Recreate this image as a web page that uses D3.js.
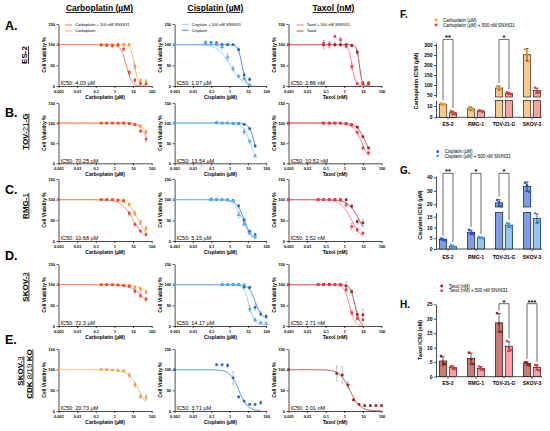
<!DOCTYPE html>
<html><head><meta charset="utf-8">
<script src="https://cdnjs.cloudflare.com/ajax/libs/d3/7.8.5/d3.min.js"></script>
<style>body{margin:0;background:#fff} svg{display:block} text{font-family:Arial,"Liberation Sans",sans-serif}</style>
</head><body><svg id="c" width="550" height="431"></svg>
<script>
// ---------------- DATA ----------------
const xTicks = [0.001, 0.01, 0.1, 1, 10, 100];
const yTicks = [0, 50, 100, 150];
const cellLines = ["ES-2", "TOV-21-G", "RMG-1", "SKOV-3", "SKOV-3 CDK 8/19 KO"];

const carboDoses = [0.001,0.195,0.39,0.78,1.5625,3.125,6.25,12.5,25,50];
const cisDosesA = [0.001,0.049,0.098,0.195,0.39,0.78,1.5625,3.125,6.25,12.5];
const cisDosesB = [0.001,0.195,0.39,0.78,1.5625,3.125,6.25,12.5,25];
const cisDosesC = [0.001,0.098,0.195,0.39,0.78,1.5625,3.125,6.25,12.5,25];
const cisDosesD = [0.001,0.39,0.78,1.5625,3.125,6.25,12.5,25,50,100];
const cisDosesE = [0.001,0.195,0.39,0.78,1.5625,3.125,6.25,12.5,25,50];
const taxDosesAB = [0.001,0.078,0.156,0.3125,0.625,1.25,2.5,5,10,20];
const taxDosesCD = [0.001,0.039,0.078,0.156,0.3125,0.625,1.25,2.5,5,10];
const taxDosesE = [0.001,0.39,0.78,1.5625,3.125,6.25,12.5,25,50,100];

// mean viability (%) and SD; fits = [IC50, Hill, bottom] for [drug, drug+SNX631]
const carboA = [100,100,101,100,101,100,100,47,13,10], carboA_sd = [0,2,2,3,2,3,3,6,4,5];
const carboAc = [100,99,98,97,99,89,33,14,6,5], carboAc_sd = [0,2,2,3,3,4,6,4,2,2];
const carboA_fit = [[12,4,0],[4.3,3,0]];
const carboB = [100,100,100,100,100,100,99,97,93,78], carboB_sd = [0,1,1,1,1,1,2,2,3,4];
const carboBc = [100,100,100,100,100,100,99,96,80,60], carboBc_sd = [0,1,1,1,1,2,2,3,3,6];
const carboB_fit = [[94,2,0],[70.25,2,0]];
const carboC = [100,100,100,100,99,99,89,67,45,30], carboC_sd = [0,1,1,1,2,2,3,6,5,5];
const carboCc = [100,100,100,100,99,97,67,40,24,16], carboCc_sd = [0,1,1,1,2,3,6,4,3,3];
const carboC_fit = [[20,1.5,0],[10.68,1.35,0]];
const carboD = [100,100,100,100,100,99,98,93,89,82], carboD_sd = [0,1,1,1,1,1,2,4,5,5];
const carboDc = [100,100,100,100,99,98,96,84,73,65], carboDc_sd = [0,1,1,1,1,2,2,5,6,5];
const carboD_fit = [[200,1.2,0],[72.3,1.1,0]];
const carboE = [100,100,100,99,98,97,87,63,35,33], carboE_sd = [0,1,1,1,1,2,5,5,4,6];
const carboE_fit = [[20.73,1.5,0]];

const cisA = [100,105,105,104,100,100,100,88,27,16], cisA_sd = [0,4,3,4,3,2,2,4,5,4];
const cisAc = [100,104,102,100,95,70,42,24,18,3], cisAc_sd = [0,3,3,3,6,8,6,3,3,2];
const cisA_fit = [[4.8,4,0],[1.1,1.3,0]];
const cisB = [100,101,100,100,99,99,97,86,43], cisB_sd = [0,1,1,1,2,2,2,3,3];
const cisBc = [100,101,100,100,99,98,78,55,18], cisBc_sd = [0,1,1,1,2,2,6,4,2];
const cisB_fit = [[23,3,0],[13.54,2.2,0]];
const cisC = [100,101,100,100,100,98,85,51,23,15], cisC_sd = [0,1,1,1,1,2,4,5,3,3];
const cisCc = [100,100,100,100,99,97,63,41,19,10], cisCc_sd = [0,1,1,1,1,2,7,4,3,3];
const cisC_fit = [[6.5,2,0],[5.15,1.8,0]];
const cisD = [100,100,100,100,100,94,93,45,29,23], cisD_sd = [0,1,1,1,1,2,3,8,6,5];
const cisDc = [100,100,100,100,100,100,41,15,8,6], cisDc_sd = [0,1,1,1,1,2,6,4,3,3];
const cisD_fit = [[25,2.5,18],[11.5,3,3]];
const cisE = [100,112,112,110,80,34,24,16,16,20], cisE_sd = [0,0,0,5,15,2,2,2,2,4];
const cisE_fit = [[3.2,1.8,0]];

const taxA = [100,100,100,100,100,100,98,82,6,5], taxA_sd = [0,10,8,5,4,3,3,6,3,2];
const taxAc = [100,103,100,120,112,96,47,6,8,8], taxAc_sd = [0,6,6,2,6,4,8,2,1,1];
const taxA_fit = [[6.5,6,0],[2.6,4.5,0]];
const taxB = [100,100,100,100,100,99,96,90,66,38], taxB_sd = [0,1,1,1,1,1,2,2,3,3];
const taxBc = [100,100,100,100,100,99,95,77,38,26], taxBc_sd = [0,1,1,1,1,1,2,4,5,4];
const taxB_fit = [[15,1.8,0],[9,1.8,0]];
const taxC = [100,100,100,100,100,100,100,84,47,44], taxC_sd = [0,1,1,1,1,2,3,5,6,8];
const taxCc = [100,100,100,100,100,99,88,35,27,19], taxCc_sd = [0,1,1,1,1,2,5,8,5,3];
const taxC_fit = [[6.5,1.5,0],[2.52,1.5,0]];
const taxD = [100,100,101,101,100,100,97,83,28,27], taxD_sd = [0,1,1,1,1,2,10,5,6,14];
const taxDc = [100,100,100,100,100,99,88,32,18,15], taxDc_sd = [0,1,1,1,1,2,8,6,4,3];
const taxD_fit = [[3.8,3.5,0],[1.9,3,0]];
const taxE = [100,91,87,63,27,16,13,13,13,13], taxE_sd = [0,18,20,8,3,2,2,2,2,3];
const taxE_fit = [[2.01,1.6,0]];

const ic50Carbo = ["4.03 µM","70.25 µM","10.68 µM","72.3 µM","20.73 µM"];
const ic50Cis = ["1.07 µM","13.54 µM","5.15 µM","14.17 µM","3.71 µM"];
const ic50Tax = ["2.86 nM","10.52 nM","2.52 nM","2.71 nM","2.01 nM"];

// bar charts (IC50 replicates)
const barCats = ["ES-2","RMG-1","TOV-21-G","SKOV-3"];
const carboIC50Drug = [[12.3,11.5,11.0],[9.0,7.3,6.0],[95,85,75],[278,258,217]];
const carboIC50Combo = [[5.5,3.8,2.8],[6.2,5.6,5.0],[64,58,54],[86,68,62]];
const cisIC50Drug = [[4.9,4.4,4.0],[8.9,7.6,6.9],[23.2,21.5,18.5],[35.9,34.2,29.3]];
const cisIC50Combo = [[1.8,1.0,0.7],[5.6,5.2,4.9],[12.0,11.2,10.1],[16.6,13.3,12.6]];
const taxIC50Drug = [[7.1,4.8,4.4],[8.3,6.0,4.4],[21.9,18.4,15.5],[5.1,4.7,3.9]];
const taxIC50Combo = [[3.7,3.2,2.6],[3.5,2.9,2.3],[12.3,9.8,9.2],[4.0,3.5,2.2]];
const sigF = [["ES-2","**"],["TOV-21-G","*"]];
const sigG = [["ES-2","**"],["RMG-1","*"],["TOV-21-G","*"]];
const sigH = [["TOV-21-G","*"],["SKOV-3","***"]];

// ---------------- DRAWING ----------------
const svg = d3.select('#c');
const colX = [[58.5,151.7],[174.6,266.2],[288.5,381.5]];
const rowY = [[24,86],[103,163.3],[179,241],[264,326],[349,411]];

const drugs = [
  {name:"Carboplatin", unit:"µM", title:"Carboplatin (µM)",
   c:{drugPt:"#f7a232", drugLn:"#f9ad4e", comboPt:"#ef4328", comboLn:"#f26a5c"},
   shapes:[d3.symbolSquare, d3.symbolSquare], ic:ic50Carbo,
   rows:[[carboDoses,carboA,carboA_sd,carboAc,carboAc_sd,carboA_fit],
         [carboDoses,carboB,carboB_sd,carboBc,carboBc_sd,carboB_fit],
         [carboDoses,carboC,carboC_sd,carboCc,carboCc_sd,carboC_fit],
         [carboDoses,carboD,carboD_sd,carboDc,carboDc_sd,carboD_fit],
         [carboDoses,carboE,carboE_sd,null,null,carboE_fit]]},
  {name:"Cisplatin", unit:"µM", title:"Cisplatin (µM)",
   c:{drugPt:"#1f62d9", drugLn:"#3479e0", comboPt:"#4cb0f3", comboLn:"#7cc6f6"},
   shapes:[d3.symbolCircle, d3.symbolTriangle], ic:ic50Cis,
   rows:[[cisDosesA,cisA,cisA_sd,cisAc,cisAc_sd,cisA_fit],
         [cisDosesB,cisB,cisB_sd,cisBc,cisBc_sd,cisB_fit],
         [cisDosesC,cisC,cisC_sd,cisCc,cisCc_sd,cisC_fit],
         [cisDosesD,cisD,cisD_sd,cisDc,cisDc_sd,cisD_fit],
         [cisDosesE,cisE,cisE_sd,null,null,cisE_fit]]},
  {name:"Taxol", unit:"nM", title:"Taxol (nM)",
   c:{drugPt:"#a31c1c", drugLn:"#ab3434", comboPt:"#ff2f42", comboLn:"#ff6b78"},
   shapes:[d3.symbolSquare, d3.symbolSquare], ic:ic50Tax,
   rows:[[taxDosesAB,taxA,taxA_sd,taxAc,taxAc_sd,taxA_fit],
         [taxDosesAB,taxB,taxB_sd,taxBc,taxBc_sd,taxB_fit],
         [taxDosesCD,taxC,taxC_sd,taxCc,taxCc_sd,taxC_fit],
         [taxDosesCD,taxD,taxD_sd,taxDc,taxDc_sd,taxD_fit],
         [taxDosesE,taxE,taxE_sd,null,null,taxE_fit]]}
];

function hill(fit, x){ const [ic,h,b] = fit; return b + (100-b)/(1+Math.pow(x/ic,h)); }

function styleAxis(g, fs){
  g.selectAll('path.domain').attr('stroke','#000').attr('stroke-width',0.7);
  g.selectAll('.tick line').attr('stroke','#000').attr('stroke-width',0.7);
  g.selectAll('.tick text').attr('font-size',fs).attr('font-weight','bold').attr('fill','#000')
    .attr('font-family','Arial, "Liberation Sans", sans-serif');
}

function drawPanel(r, ci){
  const D = drugs[ci];
  const [doses, m1, s1, m2, s2, fits] = D.rows[r];
  const x = d3.scaleLog().domain([0.001,100]).range(colX[ci]);
  const y = d3.scaleLinear().domain([0,150]).range([rowY[r][1], rowY[r][0]]);
  const g = svg.append('g');
  const xa = g.append('g').attr('transform',`translate(0,${rowY[r][1]})`)
    .call(d3.axisBottom(x).tickValues(xTicks).tickFormat(d=>String(d)).tickSize(2).tickSizeOuter(0));
  xa.selectAll('.tick text').attr('y',4);
  styleAxis(xa, 4);
  const ya = g.append('g').attr('transform',`translate(${colX[ci][0]},0)`)
    .call(d3.axisLeft(y).tickValues(yTicks).tickSize(2).tickSizeOuter(0));
  ya.selectAll('.tick text').attr('x',-3.5);
  styleAxis(ya, 4);
  // titles
  g.append('text').attr('x',(colX[ci][0]+colX[ci][1])/2).attr('y',rowY[r][1]+13)
    .attr('text-anchor','middle').attr('font-size',5).attr('font-weight','bold').text(D.title);
  g.append('text').attr('transform',`translate(${colX[ci][0]-13},${(rowY[r][0]+rowY[r][1])/2}) rotate(-90)`)
    .attr('text-anchor','middle').attr('font-size',5).attr('font-weight','bold').text('Cell Viability %');
  // series
  const series = [{m:m1, s:s1, fit:fits[0], pt:D.c.drugPt, ln:D.c.drugLn, sh:D.shapes[0]}];
  if (m2) series.push({m:m2, s:s2, fit:fits[1], pt:D.c.comboPt, ln:D.c.comboLn, sh:D.shapes[1]});
  const lo = Math.log10(0.001), hi = Math.log10(doses[doses.length-1]);
  const samples = d3.range(0,241).map(i => Math.pow(10, lo + (hi-lo)*i/240));
  const line = d3.line().x(d=>x(d));
  series.forEach(S => {
    g.append('path').attr('d', line.y(d=>y(hill(S.fit,d)))(samples))
      .attr('fill','none').attr('stroke',S.ln).attr('stroke-width',0.9);
  });
  series.forEach(S => {
    doses.forEach((d,i) => {
      const sd = S.s[i]; if (!sd) return;
      const px = x(d), ya0 = y(S.m[i]-sd), ya1 = y(S.m[i]+sd);
      g.append('path').attr('d',`M${px},${ya0}V${ya1}M${px-1},${ya0}H${px+1}M${px-1},${ya1}H${px+1}`)
        .attr('stroke','#888').attr('stroke-width',0.5).attr('fill','none');
    });
  });
  series.forEach(S => {
    const sym = d3.symbol().type(S.sh).size(S.sh===d3.symbolTriangle?7:6.5);
    doses.forEach((d,i) => {
      g.append('path').attr('d',sym()).attr('transform',`translate(${x(d)},${y(S.m[i])})`).attr('fill',S.pt);
    });
  });
  // IC50 label
  g.append('text').attr('x',colX[ci][0]+2).attr('y',rowY[r][1]-0.8).attr('font-size',5.5)
    .attr('fill','#000').text('IC50: ' + D.ic[r]);
  // legend in first row
  if (r === 0){
    const lp = [[65,25],[181.7,24.3],[296.7,25]][ci];
    const items = [[D.name + ' + 500 nM SNX631', D.c.comboLn],[D.name, D.c.drugLn]];
    items.forEach((it,k) => {
      const ly = lp[1] + k*6;
      g.append('line').attr('x1',lp[0]).attr('x2',lp[0]+7).attr('y1',ly).attr('y2',ly)
        .attr('stroke',it[1]).attr('stroke-width',0.9);
      g.append('text').attr('x',lp[0]+10).attr('y',ly+1.4).attr('font-size',4).text(it[0]);
    });
  }
}

for (let r=0;r<5;r++) for (let c=0;c<3;c++) drawPanel(r,c);

// column headers
[["Carboplatin (µM)",99.5],["Cisplatin (µM)",215.5],["Taxol (nM)",333.5]].forEach(h => {
  svg.append('text').attr('x',h[1]).attr('y',11).attr('text-anchor','middle').attr('font-size',8.5)
    .attr('font-weight','bold').attr('text-decoration','underline').text(h[0]);
});

// row letters and cell line labels
[["A.",30],["B.",117],["C.",194],["D.",260],["E.",344]].forEach(l => {
  svg.append('text').attr('x',5).attr('y',l[1]).attr('font-size',12.5).attr('font-weight','bold').text(l[0]);
});
function rotLabel(x, yc, parts){
  const t = svg.append('text').attr('transform',`translate(${x},${yc}) rotate(-90)`)
    .attr('text-anchor','middle').attr('font-size',8).attr('text-decoration','underline');
  parts.forEach(p => t.append('tspan').attr('font-weight', p[1] ? 'bold' : 'normal').text(p[0]));
}
rotLabel(27, 55, [["ES-2",1]]);
rotLabel(27.5, 131.7, [["TOV-",1],["21",0],["-G",1]]);
rotLabel(27.5, 206, [["RMG-",1],["1",0]]);
rotLabel(27.5, 287, [["SKOV-",1],["3",0]]);
rotLabel(22.5, 371, [["SKOV-",1],["3",0]]);
rotLabel(31.5, 374, [["CDK ",1],["8/19",0],[" KO",1]]);

// ---------------- BAR CHARTS ----------------
function barChart(cfg){
  const g = svg.append('g');
  const segs = cfg.segs.map(s => ({d:s.d, t:s.t, s:d3.scaleLinear().domain(s.d).range(s.r)}));
  const loS = segs[0], hiS = segs[segs.length-1];
  function yv(v){
    if (segs.length === 1) return loS.s(v);
    if (v <= loS.d[1]) return loS.s(v);
    if (v >= hiS.d[0]) return hiS.s(v);
    return loS.s(loS.d[1]);
  }
  const x0 = d3.scaleBand().domain(barCats).range([434,546]).paddingInner(0.38).paddingOuter(0.19);
  const x1 = d3.scaleBand().domain([0,1]).range([0,x0.bandwidth()]).paddingInner(0.25);
  const base = loS.s(0);
  // y axes
  segs.forEach(S => {
    const a = g.append('g').attr('transform',`translate(436,0)`)
      .call(d3.axisLeft(S.s).tickValues(S.t).tickSize(2).tickSizeOuter(0));
    a.selectAll('.tick text').attr('x',-3.5);
    styleAxis(a, 5);
  });
  // x axis
  g.append('line').attr('x1',436).attr('x2',542).attr('y1',base).attr('y2',base).attr('stroke','#000').attr('stroke-width',0.7);
  barCats.forEach(c => {
    const cx = x0(c) + x0.bandwidth()/2;
    g.append('line').attr('x1',cx).attr('x2',cx).attr('y1',base).attr('y2',base+2).attr('stroke','#000').attr('stroke-width',0.7);
    g.append('text').attr('x',cx).attr('y',cfg.labY).attr('text-anchor','middle').attr('font-size',5)
      .attr('font-weight','bold').text(c);
  });
  // bars
  const tops = {};
  cfg.series.forEach((S, si) => {
    S.data.forEach((pts, ci) => {
      const cat = barCats[ci];
      const bx = x0(cat) + x1(si), bw = x1.bandwidth(), cx = bx + bw/2;
      const mean = d3.mean(pts), sd = d3.deviation(pts);
      const pieces = [];
      if (segs.length === 1 || mean <= loS.d[1]) pieces.push([loS.s(0), yv(mean)]);
      else { pieces.push([loS.s(0), loS.s(loS.d[1])]); pieces.push([hiS.s(hiS.d[0]), hiS.s(mean)]); }
      pieces.forEach(p => g.append('rect').attr('x',bx).attr('width',bw).attr('y',p[1]).attr('height',p[0]-p[1])
        .attr('fill',S.fill).attr('stroke','#000').attr('stroke-width',0.6));
      const e0 = yv(mean-sd), e1 = yv(mean+sd);
      g.append('path').attr('d',`M${cx},${e0}V${e1}M${cx-1.6},${e1}H${cx+1.6}M${cx-1.6},${e0}H${cx+1.6}`)
        .attr('stroke','#000').attr('stroke-width',0.6).attr('fill','none');
      pts.forEach((v,k) => g.append('circle').attr('cx',cx+(k-1)*2).attr('cy',yv(v)).attr('r',1.3).attr('fill',S.dot));
      tops[cat+'_'+si] = {cx, top: yv(Math.max(d3.max(pts), mean+sd))};
    });
  });
  // significance brackets
  cfg.sig.forEach(([cat, star]) => {
    const a = tops[cat+'_0'], b = tops[cat+'_1'];
    const yb = cfg.brY;
    g.append('path').attr('d',`M${a.cx},${a.top-3}V${yb}H${b.cx}V${b.top-3}`)
      .attr('stroke','#000').attr('stroke-width',0.6).attr('fill','none');
    g.append('text').attr('x',(a.cx+b.cx)/2).attr('y',yb+0.8).attr('text-anchor','middle')
      .attr('font-size',7.5).attr('font-weight','bold').text(star);
  });
  // legend
  cfg.series.forEach((S, si) => {
    const ly = cfg.leg[1] + si*cfg.legDy;
    g.append('circle').attr('cx',cfg.leg[0]).attr('cy',ly).attr('r',1.4).attr('fill',S.dot);
    g.append('text').attr('x',cfg.leg[0]+7).attr('y',ly+1.6).attr('font-size',4.5).text(S.label);
  });
  // letter and y title
  g.append('text').attr('x',400).attr('y',cfg.letterY).attr('font-size',10).attr('font-weight','bold').text(cfg.letter);
  g.append('text').attr('transform',`translate(${cfg.ytX},${cfg.ytY}) rotate(-90)`).attr('text-anchor','middle')
    .attr('font-size',5.5).attr('font-weight','bold').text(cfg.ytitle);
}

barChart({letter:'F.', letterY:18, ytitle:'Carboplatin IC50 (µM)', ytX:417.5, ytY:81,
  segs:[{d:[0,15], r:[117.3,100.3], t:[0,10]},{d:[40,310], r:[97,43], t:[50,100,150,200,250,300]}],
  labY:126, brY:39.4, leg:[436,20], legDy:5,
  series:[{label:'Carboplatin (µM)', data:carboIC50Drug, fill:'#f9c88e', dot:'#f7a21e'},
          {label:'Carboplatin (µM) + 500 nM SNX631', data:carboIC50Combo, fill:'#f5a59b', dot:'#ef3e28'}],
  sig:sigF});
barChart({letter:'G.', letterY:174, ytitle:'Cisplatin IC50 (µM)', ytX:421.5, ytY:215,
  segs:[{d:[0,17], r:[249,212.4], t:[0,5,10,15]},{d:[18,41], r:[207,176], t:[20,30,40]}],
  labY:258.5, brY:173.3, leg:[437.7,151.7], legDy:4.2,
  series:[{label:'Cisplatin (µM)', data:cisIC50Drug, fill:'#7d9de8', dot:'#1f55e0'},
          {label:'Cisplatin (µM) + 500 nM SNX631', data:cisIC50Combo, fill:'#8ec7f2', dot:'#37a5f5'}],
  sig:sigG});
barChart({letter:'H.', letterY:308, ytitle:'Taxol IC50 (nM)', ytX:421.5, ytY:340,
  segs:[{d:[0,25], r:[376.7,304.3], t:[0,5,10,15,20,25]}],
  labY:385.3, brY:303.7, leg:[441.7,286], legDy:4.7,
  series:[{label:'Taxol (nM)', data:taxIC50Drug, fill:'#c97a72', dot:'#9e1818'},
          {label:'Taxol (nM) + 500 nM SNX631', data:taxIC50Combo, fill:'#f8a2a7', dot:'#ff3145'}],
  sig:sigH});
</script></body></html>
